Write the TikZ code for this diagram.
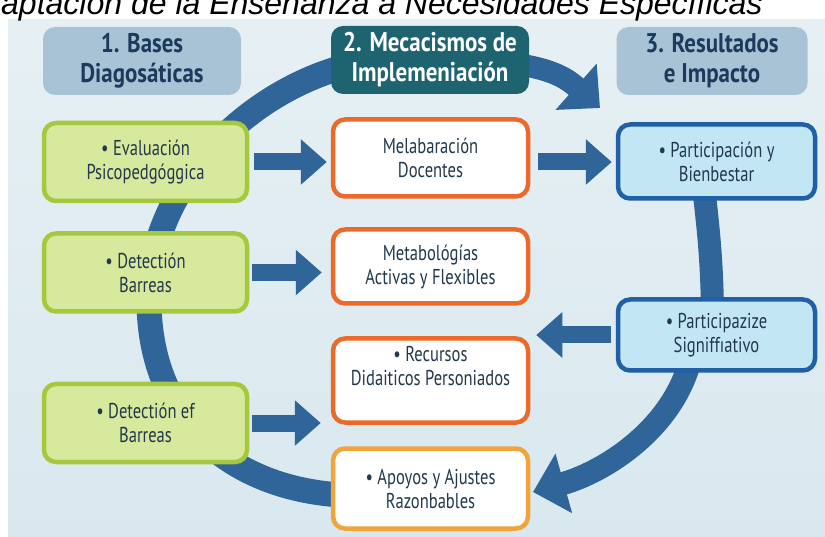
\documentclass[tikz,border=0pt]{standalone}
\usepackage{fontspec}
\setmainfont{PT Sans}[FakeStretch=0.77]
\newfontfamily\hdrfont{PT Sans}[FakeStretch=0.85]
\newfontfamily\titlefont{Liberation Sans}
\usetikzlibrary{arrows.meta}
\pgfdeclarelayer{bg}
\pgfdeclarelayer{arcs}
\pgfsetlayers{bg,arcs,main}
\definecolor{bgtop}{HTML}{E6F0F4}
\definecolor{bgbot}{HTML}{D9E8EF}
\definecolor{hdrfill}{HTML}{A8C2D6}
\definecolor{hdrtext}{HTML}{1B3A5C}
\definecolor{tealfill}{HTML}{1E6470}
\definecolor{greenfill}{HTML}{D6E99C}
\definecolor{greenline}{HTML}{A5C83C}
\definecolor{orangeline}{HTML}{EB6A2A}
\definecolor{amberline}{HTML}{F0A43A}
\definecolor{bluefill}{HTML}{C3E6F4}
\definecolor{blueline}{HTML}{1F60A6}
\definecolor{arrowc}{HTML}{2F6598}
\definecolor{boxtext}{HTML}{23384D}
\begin{document}
\begin{tikzpicture}[x=1pt,y=-1pt,
  hdr/.style={rounded corners=12pt, minimum width=198pt, minimum height=68pt, inner sep=0pt,
    align=center, font=\hdrfont\bfseries\fontsize{27}{30}\selectfont},
  hdrpale/.style={hdr, fill=hdrfill, text=hdrtext},
  hdrteal/.style={hdr, fill=tealfill, text=white},
  box/.style={rounded corners=12pt, line width=4.5pt, inner sep=0pt, align=center,
    text=boxtext, font=\fontsize{21.5}{24}\selectfont},
  greenbox/.style={box, fill=greenfill, draw=greenline, minimum width=203pt, minimum height=78pt},
  orangebox/.style={box, fill=white, draw=orangeline, minimum width=195pt},
  amberbox/.style={box, fill=white, draw=amberline, minimum width=195pt},
  bluebox/.style={box, fill=bluefill, draw=blueline, minimum width=197pt},
  barrow/.style={draw=arrowc, line width=17pt, -{Triangle[length=26pt,width=44pt]}},
  loopline/.style={draw=arrowc, line width=25pt},
  looparrow/.style={loopline, -{Triangle[length=32pt,width=60pt]}}
]
\useasboundingbox (0,0) rectangle (825,537);
\begin{pgfonlayer}{bg}
  \fill[white] (0,0) rectangle (825,537);
  \fill[top color=bgtop, bottom color=bgbot] (8,20) rectangle (825,537);
\end{pgfonlayer}

% title (cut at the top and left as in the picture)
\node[anchor=base west, inner sep=0pt, font=\titlefont\itshape\fontsize{32}{32}\selectfont] (title) at (1,15)
  {aptación de la Enseñanza a Necesidades Específicas};

% headers
\node[hdrpale] (h1) at (142,61) {1. Bases\\Diagosáticas};
\node[hdrteal] (h2) at (430,60) {2. Mecacismos de\\Implemeniación};
\node[hdrpale, minimum width=191pt] (h3) at (712,61) {3. Resultados\\e Impacto};

% column 1
\node[greenbox] (ev) at (145.5,162) {• Evaluación\\Psicopedgóggica};
\node[greenbox] (det) at (145.5,272.5) {• Detectión\\Barreas};
\node[greenbox] (def) at (145.5,423) {• Detectión ef\\Barreas};

% column 2
\node[orangebox, minimum height=77pt] (mel) at (430.5,158) {Melabaración\\Docentes};
\node[orangebox, minimum height=74pt] (met) at (430.5,266.5) {Metabológías\\Activas y Flexibles};
\node[orangebox, minimum height=84pt] (rec) at (430.5,380.5) {• Recursos\\Didaiticos Personiados\\[6pt]};
\node[amberbox, minimum height=80pt] (apo) at (430.5,488.5) {• Apoyos y Ajustes\\Razonbables};

% column 3
\node[bluebox, minimum height=74pt] (pb) at (716.5,161.5) {• Participación y\\Bienbestar};
\node[bluebox, minimum height=71pt] (ps) at (716.5,335) {• Participazize\\Signiffıativo};

\coordinate (lft) at (149,300);
\coordinate (trtip) at (600,108);
\coordinate (brtip) at (533,492);

\begin{pgfonlayer}{arcs}
  \draw[loopline] (h2.center) .. controls (300,43) and (149,160) .. (lft)
        .. controls (149,445) and (270,520) .. (apo.center);
  \draw[looparrow, line width=22pt] (h2.center) .. controls (540,58) and (564,76) .. (trtip);
  \draw[loopline, line width=23pt] ([xshift=-16pt]pb.center) .. controls (708,225) and (713,262) .. ([xshift=-4pt]ps.center);
  \draw[looparrow, line width=23pt] ([xshift=-22pt]ps.center) .. controls (688,420) and (608,471) .. (brtip);
\end{pgfonlayer}

% straight block arrows
\draw[barrow] ([xshift=5pt]ev.east) -- ([xshift=-4pt]ev.east -| mel.west);
\draw[barrow] ([xshift=3pt]det.east) -- ([xshift=-9pt]det.east -| met.west);
\draw[barrow] ([xshift=3pt]def.east) -- ([xshift=-10pt]def.east -| rec.west);
\draw[barrow] ([xshift=8pt,yshift=-4pt]mel.east) -- ([xshift=-4pt,yshift=-4pt]mel.east -| pb.west);
\draw[barrow] ([xshift=-5pt]ps.west) -- ([xshift=6pt]ps.west -| rec.east);
\end{tikzpicture}
\end{document}
